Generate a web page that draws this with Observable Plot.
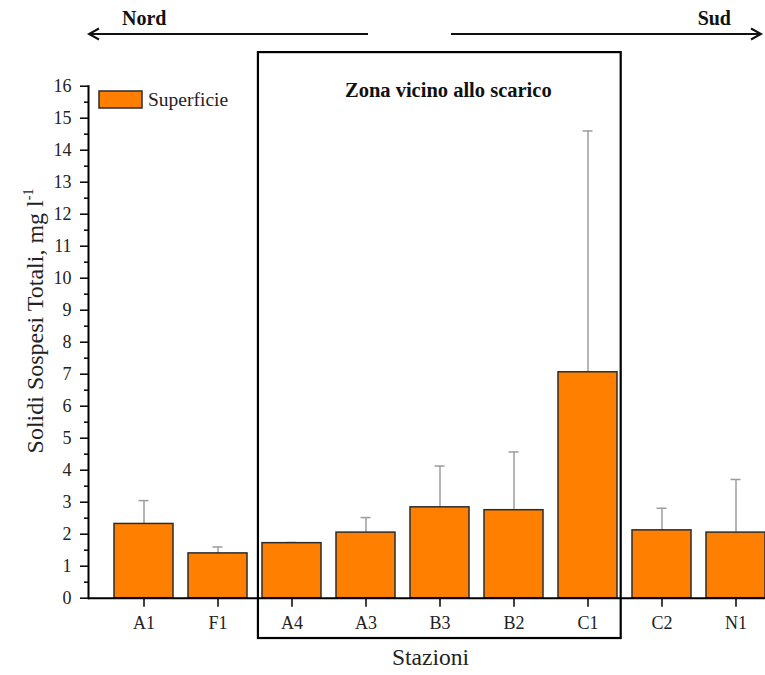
<!DOCTYPE html>
<html><head><meta charset="utf-8">
<script src="https://cdn.jsdelivr.net/npm/d3@7"></script>
<script src="https://cdn.jsdelivr.net/npm/@observablehq/plot@0.6"></script>
<style>
body{margin:0;overflow:hidden;background:#fff}
#chart svg{overflow:hidden}
#chart svg text, #chart svg tspan{font-family:"Liberation Serif","Times New Roman","DejaVu Serif",serif !important}
</style>
</head><body><div id="chart"></div>
<script>
// ---- data ----
const stations = ["A1","F1","A4","A3","B3","B2","C1","C2","N1"];
const means    = [2.32, 1.40, 1.72, 2.05, 2.84, 2.75, 7.06, 2.12, 2.05];
const uppers   = [3.05, 1.60, 1.74, 2.52, 4.13, 4.57, 14.6, 2.81, 3.71];
const yTicks   = d3.range(0, 17, 1);
const yMinor   = d3.range(0.5, 16, 1);
const seriesName = "Superficie";
const zoneFirst = "A4", zoneLast = "C1";
const zoneLabel = "Zona vicino allo scarico";
const northLabel = "Nord", southLabel = "Sud";
const xTitle = "Stazioni";
const yTitle = "Solidi Sospesi Totali, mg l";

const data = stations.map((s, i) => ({station: s, mean: means[i], upper: uppers[i]}));

const FONT = "Liberation Serif, Times New Roman, DejaVu Serif, serif";
const ORANGE = "#FF8000";
const BARSTROKE = "#2b2b2b";
const ERR = "#9c9c9c";

const chart = Plot.plot({
  width: 765, height: 675,
  marginLeft: 88, marginRight: 0, marginTop: 85.7, marginBottom: 77.3,
  style: {fontFamily: FONT, fontSize: "18px", color: "#000", background: "#fff"},
  x: {type: "band", domain: stations, range: [105.9, 773.3], paddingInner: 0.2, paddingOuter: 0.1, label: null},
  y: {domain: [0, 16], label: null},
  marks: [
    Plot.ruleX(data, {x: "station", y1: "mean", y2: "upper", stroke: ERR, strokeWidth: 1.5}),
    Plot.tickY(data, {x: "station", y: "upper", stroke: ERR, strokeWidth: 1.5, insetLeft: 24.5, insetRight: 24.5}),
    Plot.barY(data, {x: "station", y: "mean", fill: ORANGE, stroke: BARSTROKE, strokeWidth: 1.5}),
    Plot.axisY({ticks: yMinor, tickSize: 4, tickFormat: () => "", label: null, stroke: "#000", strokeWidth: 1.5}),
    Plot.axisY({ticks: yTicks, tickSize: 8, tickPadding: 9, tickFormat: d3.format("d"), label: null, stroke: "#000", strokeWidth: 1.5, fill: "#222"}),
    Plot.axisX({tickSize: 9, tickPadding: 9, label: null, stroke: "#000", strokeWidth: 1.5, fill: "#222"}),
    Plot.frame({anchor: "left", stroke: "#000", strokeWidth: 2}),
    Plot.ruleY([0], {stroke: "#000", strokeWidth: 2})
  ]
});
document.getElementById("chart").appendChild(chart);

// ---- annotations (positioned via the chart's scales where possible) ----
const svg = d3.select(chart);
const xs = chart.scale("x"), ys = chart.scale("y");
const g = svg.append("g").attr("font-family", FONT).attr("text-anchor", "start");

// zone box
const bx1 = xs.apply(zoneFirst) - 0.055 * xs.step;
const bx2 = xs.apply(zoneLast) + xs.bandwidth + 0.05 * xs.step;
const by1 = ys.apply(17.05), by2 = ys.apply(-1.26);
g.append("rect").attr("x", bx1).attr("y", by1).attr("width", bx2 - bx1).attr("height", by2 - by1)
  .attr("fill", "none").attr("stroke", "#000").attr("stroke-width", 2.2);
g.append("text").attr("x", (bx1 + bx2) / 2 + 9).attr("y", 97).attr("text-anchor", "middle")
  .attr("font-weight", "bold").attr("font-size", 20.5).attr("fill", "#111").text(zoneLabel);

// arrows
const ay = 34;
function arrow(xFrom, xTo) {
  const dir = Math.sign(xTo - xFrom);
  g.append("line").attr("x1", xFrom).attr("x2", xTo).attr("y1", ay).attr("y2", ay)
    .attr("stroke", "#111").attr("stroke-width", 2);
  g.append("path").attr("d", `M${xTo - dir * 10},${ay - 5.5}L${xTo},${ay}L${xTo - dir * 10},${ay + 5.5}`)
    .attr("fill", "none").attr("stroke", "#111").attr("stroke-width", 2);
}
arrow(368, 89);
arrow(451, 761);
g.append("text").attr("x", 122).attr("y", 25).attr("text-anchor", "start").attr("font-weight", "bold").attr("font-size", 20).attr("fill", "#111").text(northLabel);
g.append("text").attr("x", 731).attr("y", 25).attr("text-anchor", "end").attr("font-weight", "bold").attr("font-size", 20).attr("fill", "#111").text(southLabel);

// legend
g.append("rect").attr("x", 99).attr("y", 91).attr("width", 43).attr("height", 17)
  .attr("fill", ORANGE).attr("stroke", BARSTROKE).attr("stroke-width", 1.5);
g.append("text").attr("x", 148).attr("y", 106).attr("text-anchor", "start").attr("font-size", 19.5).attr("fill", "#222").text(seriesName);

// axis titles
g.append("text").attr("x", (88 + 765) / 2 + 4).attr("y", 665).attr("text-anchor", "middle")
  .attr("font-size", 23.5).attr("fill", "#222").text(xTitle);
const yt = g.append("text").attr("transform", "translate(43,321) rotate(-90)").attr("text-anchor", "middle")
  .attr("font-size", 24).attr("fill", "#222");
yt.append("tspan").text(yTitle);
yt.append("tspan").attr("font-size", 14).attr("dy", -10).text("-1");
</script>
</body></html>
